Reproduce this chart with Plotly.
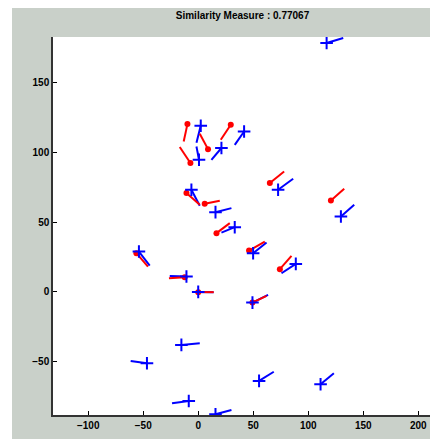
import plotly.graph_objects as go

# Blue minutiae: marker position (x, y) and orientation segment end (ex, ey)
blue_x  = [2.3, 0.7, 21.1, 41.7, -6.2, 15.7, 33.2, 72.6, 129.7, -53.9, -10.7, 0.0, 49.9, 88.7, 49.3, -15.3, -46.6, -8.6, 15.7, 55.3, 111.2, 116.7]
blue_y  = [119.2, 94.8, 103.2, 115.1, 73.2, 57.1, 46.3, 73.2, 54.0, 28.8, 10.8, -0.2, 27.6, 19.9, -7.9, -38.3, -51.5, -78.6, -88.2, -64.2, -66.6, 178.7]
blue_ex = [-1.6, -1.6, 12.0, 33.2, 1.4, 30.2, 21.1, 86.3, 141.8, -44.1, -25.9, 14.0, 62.1, 75.7, 63.5, 1.4, -61.4, -23.8, 30.2, 68.7, 123.3, 131.8]
blue_ey = [107.0, 104.3, 94.7, 105.5, 61.7, 60.0, 42.4, 81.1, 62.4, 18.7, 11.3, -0.4, 35.3, 13.2, -2.4, -37.1, -49.9, -80.3, -85.1, -57.6, -58.7, 182.3]

# Red minutiae
red_x  = [-9.8, -7.1, 8.9, 29.6, -10.7, 5.9, 16.6, 65.1, 120.6, -56.2, -12.3, 0.0, 46.2, 74.2, 49.3]
red_y  = [120.4, 92.4, 102.4, 119.9, 70.8, 63.1, 42.0, 78.0, 65.5, 27.6, 10.4, -0.4, 29.5, 16.1, -7.9]
red_ex = [-13.2, -16.8, 1.4, 20.5, 1.4, 19.6, 28.7, 78.1, 132.7, -45.7, -26.6, 14.1, 60.5, 84.8, 62.1]
red_ey = [107.9, 103.9, 113.5, 109.1, 62.4, 65.3, 49.2, 86.3, 73.9, 18.0, 9.6, -0.4, 36.0, 25.7, -3.1]

title_text = "Similarity Measure : 0.77067"
x_ticks = [-100, -50, 0, 50, 100, 150, 200]
y_ticks = [-50, 0, 50, 100, 150]


def segments(xs, ys, exs, eys):
    sx, sy = [], []
    for a, b, c, d in zip(xs, ys, exs, eys):
        sx += [a, c, None]
        sy += [b, d, None]
    return sx, sy


bsx, bsy = segments(blue_x, blue_y, blue_ex, blue_ey)
rsx, rsy = segments(red_x, red_y, red_ex, red_ey)

fig = go.Figure()
fig.add_trace(go.Scatter(x=bsx, y=bsy, mode="lines", line=dict(color="#0000ff", width=2),
                         hoverinfo="skip", showlegend=False))
fig.add_trace(go.Scatter(x=rsx, y=rsy, mode="lines", line=dict(color="#ff0000", width=2),
                         hoverinfo="skip", showlegend=False))
fig.add_trace(go.Scatter(x=red_x, y=red_y, mode="markers",
                         marker=dict(color="#ff0000", size=6, symbol="circle"), showlegend=False))
fig.add_trace(go.Scatter(x=blue_x, y=blue_y, mode="markers",
                         marker=dict(color="#0000ff", size=9, symbol="cross-thin",
                                     line=dict(color="#0000ff", width=2)), showlegend=False))

W, H = 438, 439
L, R, T, B = 45, 14, 29, 32
pw, ph = W - L - R, H - T - B

fig.update_layout(
    width=W, height=H,
    margin=dict(l=L, r=R, t=T, b=B),
    paper_bgcolor="#c9d0c9",
    plot_bgcolor="#ffffff",
    title=dict(text="<b>" + title_text + "</b>", x=0.5, xref="paper", y=1 - 7 / H, yanchor="middle",
               font=dict(family="Liberation Sans, Arial", size=10, color="#000000")),
    xaxis=dict(range=[-132, 212.5], tickvals=x_ticks, ticks="inside", ticklen=4, tickwidth=1,
               tickcolor="#000000", showline=True, linecolor="#333333", linewidth=1.5,
               showgrid=False, zeroline=False, mirror=False,
               tickfont=dict(family="Liberation Sans, Arial", size=10, color="#000000", weight="bold")),
    yaxis=dict(range=[-88.7, 183], tickvals=y_ticks, ticks="inside", ticklen=4, tickwidth=1,
               tickcolor="#000000", showline=True, linecolor="#333333", linewidth=1.5,
               showgrid=False, zeroline=False, mirror=False,
               tickfont=dict(family="Liberation Sans, Arial", size=10, color="#000000", weight="bold")),
    shapes=[
        # thin white strip at left edge of figure
        dict(type="rect", xref="paper", yref="paper",
             x0=-L / pw - 0.1, x1=(4 - L) / pw,
             y0=-B / ph - 0.1, y1=(H - B) / ph + 0.1,
             fillcolor="#ffffff", line=dict(width=0), layer="above"),
    ],
)

fig.write_html("out.html")
